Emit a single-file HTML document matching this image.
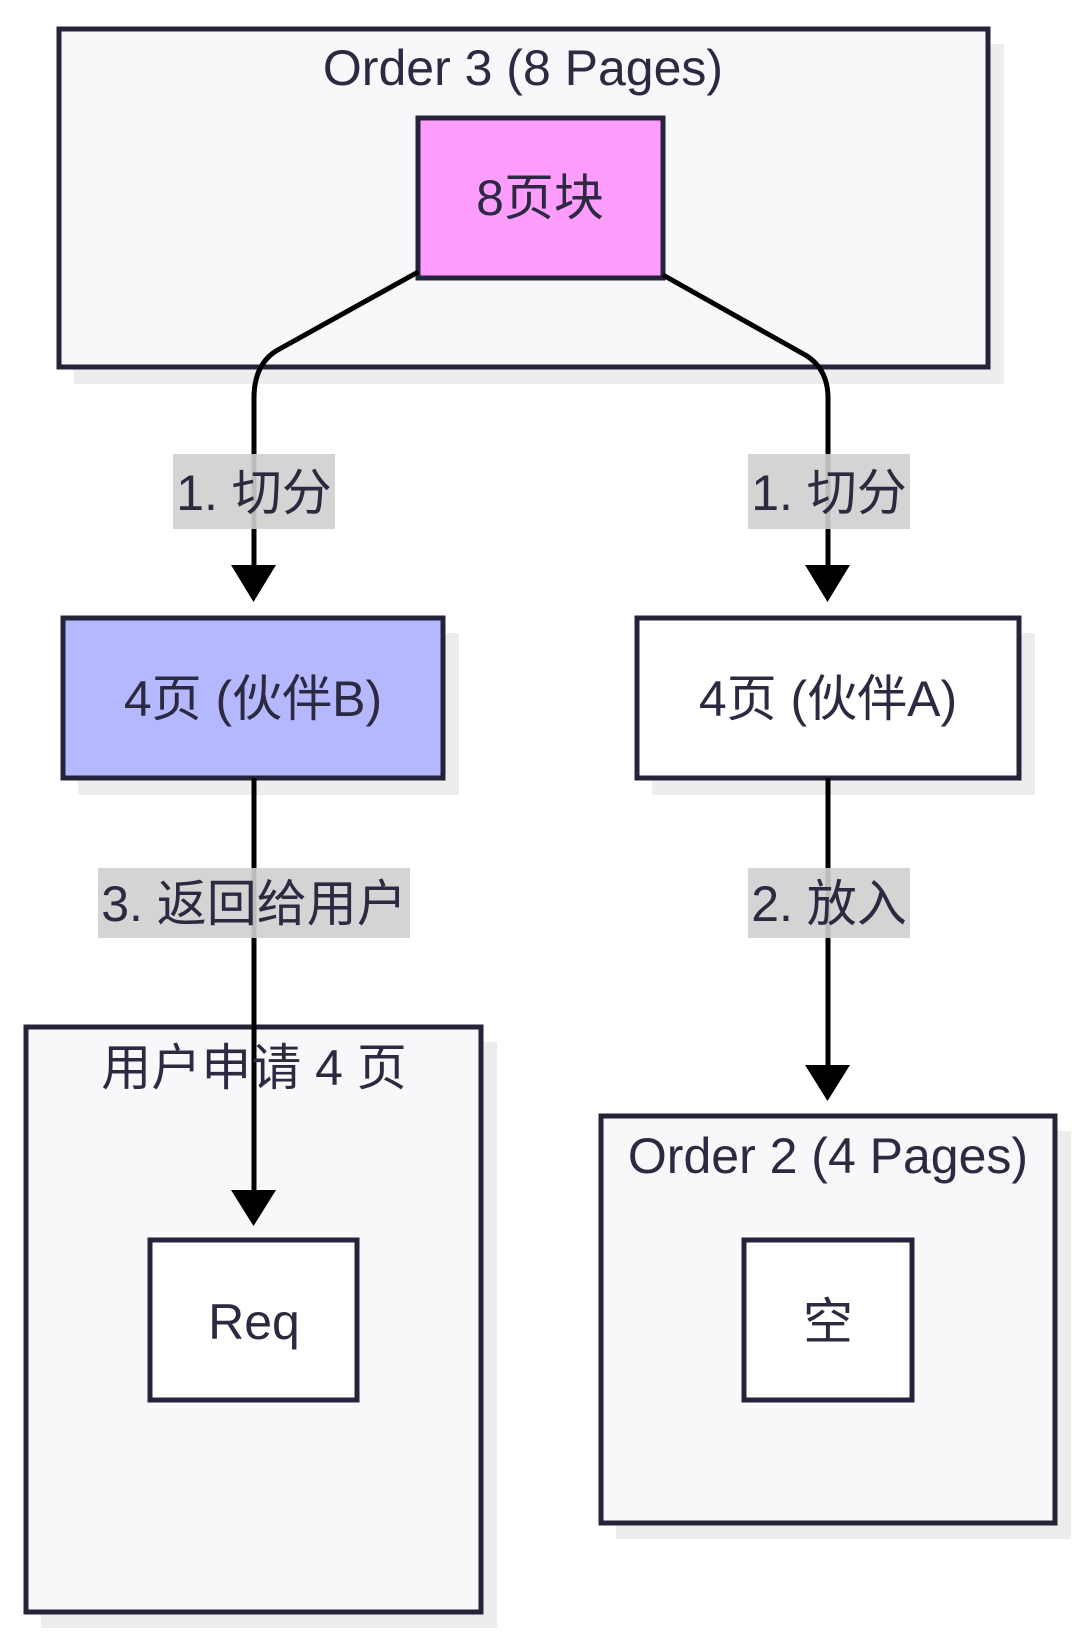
<!DOCTYPE html>
<html><head><meta charset="utf-8"><style>
html,body{margin:0;padding:0;background:#fff;}
svg{display:block;}
text{font-family:"Liberation Sans","Noto Sans CJK SC",sans-serif;fill:#2b2a40;}
</style></head><body>
<svg width="1080" height="1641" viewBox="0 0 1080 1641" xmlns="http://www.w3.org/2000/svg">
<g fill="#e6e6e6" opacity="0.7">
<rect x="74" y="44" width="930" height="340"/>
<rect x="433" y="133" width="246" height="162"/>
<rect x="78" y="633" width="381" height="162"/>
<rect x="652" y="633" width="383" height="162"/>
<rect x="41" y="1042" width="456" height="586"/>
<rect x="165" y="1255" width="208" height="162"/>
<rect x="616" y="1131" width="455" height="408"/>
<rect x="759" y="1255" width="169" height="162"/>
</g>
<g stroke="#25233a" stroke-width="5">
<rect x="59" y="29" width="929" height="338" fill="#f8f8fa"/>
<rect x="26" y="1027" width="455" height="585" fill="#f8f8fa"/>
<rect x="601" y="1116" width="454" height="407" fill="#f8f8fa"/>
<rect x="418" y="118" width="245" height="160" fill="#ff9dff"/>
<rect x="63" y="618" width="380" height="160" fill="#b6b8ff"/>
<rect x="637" y="618" width="382" height="160" fill="#fff"/>
<rect x="150" y="1240" width="207" height="160" fill="#fff"/>
<rect x="744" y="1240" width="168" height="160" fill="#fff"/>
</g>
<g stroke="#000" stroke-width="5" fill="none">
<path d="M418 272 L276 351 Q254 365 254 398 L254 570"/>
<path d="M663 275 L807 356 Q828 370 828 398 L828 570"/>
<path d="M254 778 L254 1195"/>
<path d="M828 778 L828 1065"/>
</g>
<g fill="#000">
<polygon points="231,565 276,565 253.5,602"/>
<polygon points="805,565 850,565 827.5,602"/>
<polygon points="231,1190 276,1190 253.5,1226"/>
<polygon points="805,1065 850,1065 827.5,1101"/>
</g>
<g fill="#cfcfcf" opacity="0.9">
<rect x="173" y="454" width="162" height="75"/>
<rect x="748" y="454" width="162" height="75"/>
<rect x="98" y="868" width="312" height="70"/>
<rect x="748" y="868" width="162" height="70"/>
</g>
<g font-size="50" text-anchor="middle">
<text x="523" y="85">Order 3 (8 Pages)</text>
<text x="540" y="215">8页块</text>
<text x="254" y="510">1. 切分</text>
<text x="829" y="510">1. 切分</text>
<text x="253" y="716">4页 (伙伴B)</text>
<text x="828" y="716">4页 (伙伴A)</text>
<text x="254" y="921">3. 返回给用户</text>
<text x="829" y="921">2. 放入</text>
<text x="254" y="1085">用户申请 4 页</text>
<text x="828" y="1173">Order 2 (4 Pages)</text>
<text x="254" y="1339">Req</text>
<text x="828" y="1339">空</text>
</g>
</svg>
</body></html>
